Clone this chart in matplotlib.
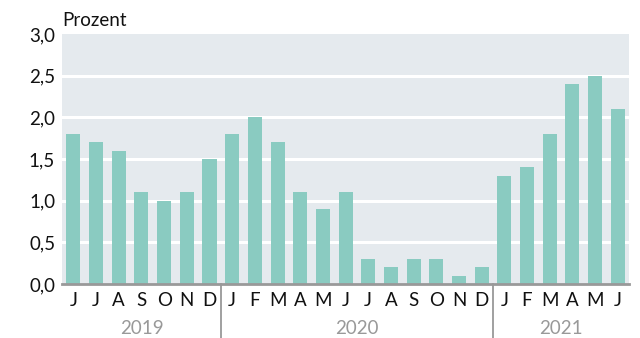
import numpy as np
import matplotlib.pyplot as plt

plt.rcParams['font.family'] = ['Lato', 'DejaVu Sans']

months = ['J', 'J', 'A', 'S', 'O', 'N', 'D',
          'J', 'F', 'M', 'A', 'M', 'J', 'J', 'A', 'S', 'O', 'N', 'D',
          'J', 'F', 'M', 'A', 'M', 'J']
values = [1.8, 1.7, 1.6, 1.1, 1.0, 1.1, 1.5,
          1.8, 2.0, 1.7, 1.1, 0.9, 1.1, 0.3, 0.2, 0.3, 0.3, 0.1, 0.2,
          1.3, 1.4, 1.8, 2.4, 2.5, 2.1]
years = ['2019', '2020', '2021']
year_counts = [7, 12, 6]

fs = 13.5

fig = plt.figure(figsize=(6.4, 3.38), dpi=100)
ax = fig.add_axes([0.097, 0.160, 0.886, 0.739])
ax.set_facecolor('#e5eaee')

x = np.arange(len(values))
ax.bar(x, values, width=0.62, color='#8acbc1', zorder=3)

ax.set_xlim(-0.5, len(values) - 0.5)
ax.set_ylim(0, 3.0)
yt = np.arange(0, 3.01, 0.5)
ax.set_yticks(yt)
ax.set_yticklabels([f'{v:.1f}'.replace('.', ',') for v in yt], fontsize=fs, color='#111111')
ax.set_xticks(x)
ax.set_xticklabels(months, fontsize=fs, color='#111111')
ax.tick_params(length=0, pad=6)
ax.tick_params(axis='y', pad=5)

for v in yt[1:-1]:
    ax.axhline(v, color='white', lw=2.2, zorder=1)

for s in ['top', 'right', 'left']:
    ax.spines[s].set_visible(False)
ax.spines['bottom'].set_color('#999999')
ax.spines['bottom'].set_linewidth(2)
ax.spines['bottom'].set_zorder(4)

# year separators and labels
start = 0
for i, (yr, n) in enumerate(zip(years, year_counts)):
    center = start + (n - 1) / 2
    ax.text(center, -0.178, yr, transform=ax.get_xaxis_transform(),
            ha='center', va='center', fontsize=fs, color='#999999')
    if i > 0:
        ax.plot([start - 0.5, start - 0.5], [0, -0.3], color='#999999', lw=1.3,
                transform=ax.get_xaxis_transform(), clip_on=False)
    start += n

fig.text(0.097, 0.94, 'Prozent', fontsize=fs, color='#111111', ha='left', va='center')

fig.savefig('out.png', dpi=100)
